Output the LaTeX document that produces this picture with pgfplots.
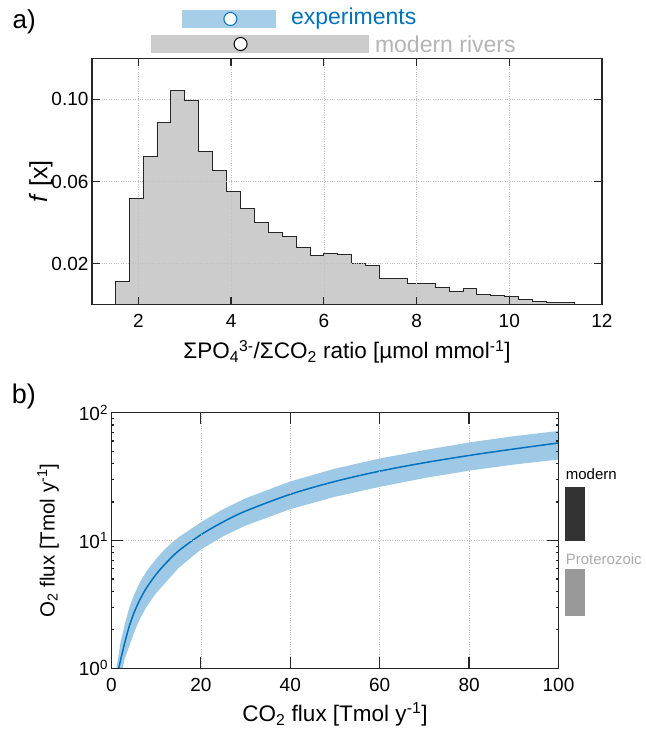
\documentclass[border=0pt]{standalone}
\usepackage{pgfplots}
\pgfplotsset{compat=1.18}
\usepackage{fontspec}
\setmainfont{Liberation Sans}
\definecolor{axc}{RGB}{38,38,38}
\definecolor{mblue}{RGB}{0,114,189}
\definecolor{bandblue}{RGB}{157,201,231}
\definecolor{expblue}{RGB}{166,206,232}
\definecolor{histgray}{RGB}{204,204,204}
\definecolor{rivgray}{RGB}{180,180,180}
\definecolor{modcol}{RGB}{51,51,51}
\definecolor{procol}{RGB}{153,153,153}
\definecolor{protext}{RGB}{170,170,170}
\pgfplotsset{
  common/.style={
    scale only axis,
    axis line style={axc, line width=1.2pt},
    tick style={axc, line width=1.2pt},
    tick align=inside,
    xtick pos=both, ytick pos=both,
    grid=major,
    major grid style={dotted, gray!50, line width=0.6pt},
    tick label style={font=\fontsize{19}{19}\selectfont, text=black},
    xticklabel style={yshift=-6pt},
    label style={font=\fontsize{22.5}{22.5}\selectfont, text=black},
    axis on top,
  }
}
\begin{document}
\begin{tikzpicture}
\path[use as bounding box] (0,0) rectangle (646pt,-732pt);
% ---------- panel a ----------
\begin{axis}[common,
  at={(92pt,-304.8pt)}, anchor=south west,
  width=510pt, height=246.6pt,
  xmin=1, xmax=12, ymin=0, ymax=0.12,
  xtick={2,4,6,8,10,12}, xticklabels={2,4,6,8,10,12},
  ytick={0.02,0.06,0.10}, yticklabels={0.02,0.06,0.10},
  major tick length=8pt,
  clip=false,
  xlabel={ΣPO\textsubscript{4}\textsuperscript{3-}/ΣCO\textsubscript{2} ratio [µmol mmol\textsuperscript{-1}]},
  ylabel={\textit{f} [x]},
  xlabel style={at={(axis description cs:0.5,-0.19)}, anchor=center},
  ylabel style={at={(axis description cs:-0.10,0.5)}, anchor=center, font=\fontsize{25}{25}\selectfont},
]
\addplot[const plot mark left, fill=histgray, draw=black!85, line width=0.7pt] coordinates {
(1.5,0.0115) (1.8,0.0518) (2.1,0.0722) (2.4,0.0888) (2.7,0.1042) (3.0,0.0996)
(3.3,0.0745) (3.6,0.0652) (3.9,0.0552) (4.2,0.0470) (4.5,0.0402) (4.8,0.0351)
(5.1,0.0333) (5.4,0.0278) (5.7,0.0240) (6.0,0.0251) (6.3,0.0245) (6.6,0.0201)
(6.9,0.0191) (7.2,0.0129) (7.5,0.0129) (7.8,0.0103) (8.1,0.0103) (8.4,0.0085)
(8.7,0.0067) (9.0,0.0080) (9.3,0.0052) (9.6,0.0046) (9.9,0.0039) (10.2,0.0028)
(10.5,0.0018) (10.8,0.0011) (11.1,0.0011) (11.4,0.0011)} \closedcycle;
% legend-like range bars
\addplot[expblue, line width=18pt] coordinates {(2.937,0.1391) (4.96,0.1391)};
\addplot[only marks, mark=*, mark size=6.5pt, mark options={fill=white, draw=mblue, line width=1pt}] coordinates {(3.985,0.1391)};
\addplot[histgray, line width=18pt] coordinates {(2.27,0.1269) (6.975,0.1269)};
\addplot[only marks, mark=*, mark size=6.5pt, mark options={fill=white, draw=black, line width=1pt}] coordinates {(4.205,0.1269)};
\node[anchor=west, inner sep=0, text=mblue, font=\fontsize{23}{23}\selectfont] at (axis cs:5.29,0.1391) {experiments};
\node[anchor=west, inner sep=0, text=rivgray, font=\fontsize{23}{23}\selectfont] at (axis cs:7.10,0.1269) {modern rivers};
\node[font=\fontsize{26}{26}\selectfont] at (axis description cs:-0.133,1.147) {a)};
\end{axis}
% ---------- panel b ----------
\begin{axis}[common,
  at={(111.5pt,-668.3pt)}, anchor=south west,
  width=447pt, height=255.6pt,
  xmin=0, xmax=100, ymode=log, ymin=1, ymax=100,
  xtick={0,20,40,60,80,100}, xticklabels={0,20,40,60,80,100},
  ytick={1,10,100}, yticklabels={10\textsuperscript{0},10\textsuperscript{1},10\textsuperscript{2}},
  minor ytick={},
  major tick length=11pt,
  clip mode=individual,
  xlabel={CO\textsubscript{2} flux [Tmol y\textsuperscript{-1}]},
  ylabel={O\textsubscript{2} flux [Tmol y\textsuperscript{-1}]},
  xlabel style={at={(axis description cs:0.5,-0.18)}, anchor=center},
  ylabel style={at={(axis description cs:-0.142,0.5)}, anchor=center, font=\fontsize{20.5}{20.5}\selectfont},
]
\addplot[fill=bandblue, draw=none] coordinates {
(1.1,1.0) (1.5,1.22) (2,1.58) (3,2.24) (4,3.0) (5,3.72) (6,4.45) (7,5.15) (8,5.85)
(10,7.2) (12,8.6) (15,10.6) (20,13.9) (25,17.6) (30,21.4) (40,29) (50,36.5)
(60,43.8) (70,51) (80,58.5) (90,65.5) (100,72)
(100,43) (90,39.3) (80,35.2) (70,30.8) (60,26.3) (50,22) (40,17.6) (30,13.1)
(25,10.8) (20,8.5) (15,6.1) (12,4.65) (10,3.88) (8,3.1) (7,2.68) (6,2.3) (5,1.88)
(4,1.5) (3,1.2) (2.46,1.0)} --cycle;
\addplot[mblue, line width=1.5pt, smooth] coordinates {
(1.63,1.0) (2,1.15) (3,1.6) (4,2.15) (5,2.7) (6,3.25) (7,3.8) (8,4.35) (10,5.45)
(12,6.55) (15,8.3) (20,11.1) (25,14) (30,17) (40,23) (50,29) (60,34.9) (70,40.6)
(80,46.3) (90,52) (100,58)};
\addplot[fill=modcol, draw=none, clip=false] coordinates {(101.5,10) (106,10) (106,26.4) (101.5,26.4)} --cycle;
\addplot[fill=procol, draw=none, clip=false] coordinates {(101.5,2.58) (106,2.58) (106,5.98) (101.5,5.98)} --cycle;
\node[anchor=west, inner sep=0, font=\fontsize{15}{15}\selectfont] at (axis cs:101.6,33) {modern};
\node[anchor=west, inner sep=0, text=protext, font=\fontsize{15}{15}\selectfont] at (axis cs:101.6,7.16) {Proterozoic};
\node[font=\fontsize{27}{27}\selectfont] at (axis description cs:-0.196,1.065) {b)};
\end{axis}
\end{tikzpicture}
\end{document}
